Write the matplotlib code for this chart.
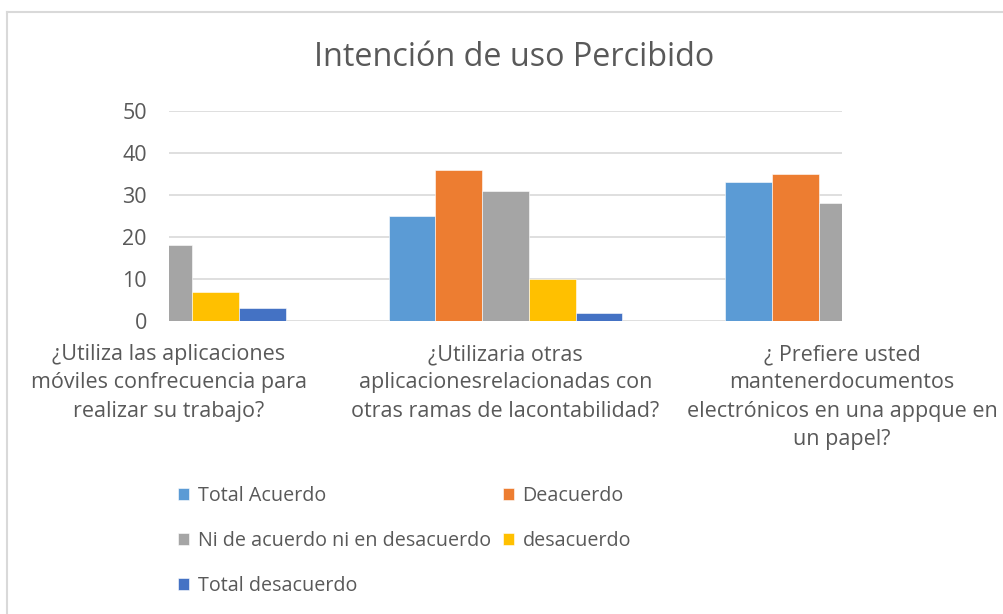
import numpy as np
import matplotlib.pyplot as plt
from matplotlib.lines import Line2D
from matplotlib.transforms import blended_transform_factory

plt.rcParams['font.family'] = ['Open Sans', 'DejaVu Sans']

# Datos del grafico (valores recortados fuera del area quedan como NaN)
preguntas = [
    "¿Utiliza las aplicaciones\nmóviles confrecuencia para\nrealizar su trabajo?",
    "¿Utilizaria otras\naplicacionesrelacionadas con\notras ramas de lacontabilidad?",
    "¿ Prefiere usted\nmantenerdocumentos\nelectrónicos en una appque en\nun papel?",
]
series = ["Total Acuerdo", "Deacuerdo", "Ni de acuerdo ni en desacuerdo",
          "desacuerdo", "Total desacuerdo"]
total_acuerdo = [np.nan, 25, 33]
deacuerdo = [np.nan, 36, 35]
ni_ni = [18, 31, 28]
desacuerdo = [7, 10, np.nan]
total_desacuerdo = [3, 2, np.nan]
colores = ["#5B9BD5", "#ED7D31", "#A5A5A5", "#FFC000", "#4472C4"]

valores = [total_acuerdo, deacuerdo, ni_ni, desacuerdo, total_desacuerdo]
TXT = "#595959"
W, H = 1004, 614

fig = plt.figure(figsize=(W / 100, H / 100), dpi=100)
ax = fig.add_axes([169 / W, 1 - 321 / H, (842 - 169) / W, (321 - 111) / H])

x = np.arange(len(preguntas))
ancho = 0.139
barras = []
for i, (nombre, vals, c) in enumerate(zip(series, valores, colores)):
    b = ax.bar(x + (i - 2) * ancho, vals, ancho, color=c, label=nombre,
               edgecolor="white", linewidth=0.4, zorder=3)
    barras.append(b)

ax.set_xlim(0, 2)
ax.set_ylim(0, 50)
ax.set_yticks(range(0, 51, 10))
ax.set_xticks([])
ax.yaxis.grid(True, color="#D9D9D9", linewidth=1.2, zorder=0)
ax.tick_params(axis="y", length=0, pad=16, labelsize=15.5, labelcolor=TXT)
for s in ax.spines.values():
    s.set_visible(False)

# etiquetas de categorias
tr = blended_transform_factory(ax.transData, fig.transFigure)
for xi, txt in zip(x, preguntas):
    ax.text(xi, 1 - 344 / H, txt, transform=tr, ha="center", va="top",
            fontsize=15.5, color=TXT, linespacing=1.46, clip_on=False)

fig.text(514 / W, 1 - 57 / H, "Intención de uso Percibido", ha="center",
         va="center", fontsize=23.3, color=TXT)

# leyenda en orden por filas
orden = [0, 2, 4, 1, 3]
fig.legend([barras[i] for i in orden], [series[i] for i in orden],
           loc="upper left", bbox_to_anchor=(178 / W, 1 - 486 / H), ncol=2,
           frameon=False, fontsize=14.2, labelcolor=TXT, handlelength=0.55,
           handleheight=0.55, handletextpad=0.45, columnspacing=0.6,
           labelspacing=1.27, borderpad=0, borderaxespad=0)

# borde del grafico
fig.add_artist(Line2D([7 / W, 7 / W], [0, 1 - 12 / H], transform=fig.transFigure,
                      color="#D9D9D9", linewidth=1.5))
fig.add_artist(Line2D([7 / W, 1], [1 - 12 / H, 1 - 12 / H], transform=fig.transFigure,
                      color="#D9D9D9", linewidth=1.5))

fig.savefig("out.png", dpi=100, facecolor="white")
